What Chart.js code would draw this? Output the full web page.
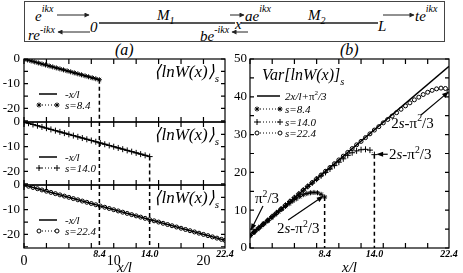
<!DOCTYPE html>
<html>
<head>
<meta charset="utf-8">
<script src="https://cdn.jsdelivr.net/npm/chart.js@4.4.1/dist/chart.umd.min.js"></script>
<style>
  html, body { margin: 0; padding: 0; background: #fff; }
  #fig { position: relative; width: 463px; height: 273px; overflow: hidden; }
  #fig canvas, #fig svg { position: absolute; }
  #xlab { pointer-events: none; z-index: 5; }
</style>
</head>
<body>
<div id="fig">
  <!-- the transfer-matrix sketch above the two panels -->
  <svg width="463" height="60" style="left:0;top:0" font-family="'Liberation Serif', 'Times New Roman', serif" font-style="italic">
    <defs>
      <marker id="ah" viewBox="0 0 10 10" refX="9" refY="5" markerWidth="6" markerHeight="5" orient="auto">
        <path d="M0,0L10,5L0,10z" fill="#222"/>
      </marker>
    </defs>
    <rect x="24.5" y="1.5" width="420" height="40" fill="none" stroke="#444"/>
    <g stroke="#555" stroke-width="2">
      <line x1="99" y1="23" x2="235" y2="23"/>
      <line x1="241" y1="23" x2="378" y2="23"/>
    </g>
    <g stroke="#222" stroke-width="1" marker-end="url(#ah)">
      <line x1="57" y1="15" x2="89" y2="15"/>
      <line x1="230" y1="15" x2="244" y2="15"/>
      <line x1="383" y1="15" x2="414" y2="15"/>
      <line x1="90" y1="32" x2="58" y2="32"/>
      <line x1="248" y1="32" x2="232" y2="32"/>
    </g>
    <g font-size="15" fill="#000">
      <text x="35" y="21">e<tspan font-size="10" dy="-9">ikx</tspan></text>
      <text x="90" y="32">0</text>
      <text x="157" y="20">M<tspan font-size="10" dy="4">1</tspan></text>
      <text x="235" y="29">x</text>
      <text x="245" y="21">ae<tspan font-size="10" dy="-9">ikx</tspan></text>
      <text x="308" y="20">M<tspan font-size="10" dy="4">2</tspan></text>
      <text x="378" y="31">L</text>
      <text x="415" y="21">te<tspan font-size="10" dy="-9">ikx</tspan></text>
      <text x="28" y="40">re<tspan font-size="10" dy="-7">-ikx</tspan></text>
      <text x="200" y="41">be<tspan font-size="10" dy="-8">-ikx</tspan></text>
      <text x="115" y="55" font-size="16">(a)</text>
      <text x="340" y="55" font-size="16">(b)</text>
    </g>
  </svg>
  <canvas id="a1" width="240" height="83" style="left:0;top:49px"></canvas>
  <canvas id="a2" width="240" height="83" style="left:0;top:112px"></canvas>
  <canvas id="a3" width="240" height="98" style="left:0;top:175px"></canvas>
  <canvas id="b" width="238" height="224" style="left:225px;top:49px"></canvas>
  <!-- x tick labels, placed from the chart scales once they are built -->
  <svg id="xlab" width="463" height="273" style="left:0;top:0" font-family="'Liberation Serif', 'Times New Roman', serif" fill="#000"></svg>
</div>
<script>
const FONT = "'Liberation Serif', 'Times New Roman', serif";
Chart.defaults.font.family = FONT;
Chart.defaults.color = "#000";

// ---- data ----
const sValues = [8.4, 14.0, 22.4];

// s = 8.4 (asterisks)
const xS84 = [0, 0.4, 0.8, 1.2, 1.6, 2.0, 2.4, 2.8, 3.2, 3.6, 4.0, 4.4, 4.8, 5.2, 5.6, 6.0, 6.4, 6.8, 7.2, 7.6, 8.0, 8.4];
const lnW84 = [0, -0.4, -0.8, -1.2, -1.6, -2.0, -2.4, -2.8, -3.2, -3.6, -4.0, -4.4, -4.8, -5.2, -5.6, -6.0, -6.4, -6.8, -7.2, -7.6, -8.0, -8.4];
const var84 = [3.3, 4.1, 4.9, 5.7, 6.5, 7.2, 8.0, 8.8, 9.6, 10.3, 11.0, 11.7, 12.4, 13.0, 13.6, 14.1, 14.4, 14.6, 14.7, 14.6, 14.2, 13.5];

// s = 14.0 (pluses)
const xS140 = [0, 0.5, 1, 1.5, 2, 2.5, 3, 3.5, 4, 4.5, 5, 5.5, 6, 6.5, 7, 7.5, 8, 8.5, 9, 9.5, 10, 10.5, 11, 11.5, 12, 12.5, 13, 13.5, 14];
const lnW140 = [0, -0.5, -1, -1.5, -2, -2.5, -3, -3.5, -4, -4.5, -5, -5.5, -6, -6.5, -7, -7.5, -8, -8.5, -9, -9.5, -10, -10.5, -11, -11.5, -12, -12.5, -13, -13.5, -14];
const var140 = [3.3, 4.3, 5.3, 6.3, 7.3, 8.3, 9.3, 10.3, 11.3, 12.3, 13.3, 14.3, 15.3, 16.3, 17.2, 18.2, 19.1, 20.0, 20.9, 21.8, 22.7, 23.6, 24.5, 25.2, 25.7, 26.0, 26.1, 25.9, 24.7];

// s = 22.4 (circles)
const xS224 = [0, 0.5, 1, 1.5, 2, 2.5, 3, 3.5, 4, 4.5, 5, 5.5, 6, 6.5, 7, 7.5, 8, 8.5, 9, 9.5, 10, 10.5, 11, 11.5, 12, 12.5, 13, 13.5, 14, 14.5, 15, 15.5, 16, 16.5, 17, 17.5, 18, 18.5, 19, 19.5, 20, 20.5, 21, 21.5, 22, 22.4];
const lnW224 = [0, -0.5, -1, -1.5, -2, -2.5, -3, -3.5, -4, -4.5, -5, -5.5, -6, -6.5, -7, -7.5, -8, -8.5, -9, -9.5, -10, -10.5, -11, -11.5, -12, -12.5, -13, -13.5, -14, -14.5, -15, -15.5, -16, -16.5, -17, -17.5, -18, -18.5, -19, -19.5, -20, -20.5, -21, -21.5, -22, -22.4];
const var224 = [3.3, 4.3, 5.3, 6.3, 7.3, 8.3, 9.3, 10.3, 11.3, 12.3, 13.3, 14.3, 15.3, 16.3, 17.3, 18.3, 19.3, 20.3, 21.3, 22.3, 23.3, 24.3, 25.3, 26.3, 27.3, 28.2, 29.2, 30.2, 31.2, 32.1, 33.1, 34.0, 34.9, 35.8, 36.7, 37.6, 38.4, 39.2, 39.9, 40.6, 41.2, 41.7, 42.1, 42.3, 42.2, 41.5];

// theory lines: -x/l per panel (a) strip, 2x/l + pi^2/3 in panel (b)
const thX84 = [0, 8.4], thY84 = [0, -8.4];
const thX140 = [0, 14.0], thY140 = [0, -14.0];
const thX224 = [0, 22.4], thY224 = [0, -22.4];
const varLineX = [0, 22.4], varLineY = [3.29, 48.09];

// axis ticks (ascending — chart.js expects that order)
const xTicksA = [0, 8.4, 10, 14.0, 20, 22.4];
const yTicksA = [-20, -10, 0];
const xTicksB = [8.4, 14.0, 22.4];
const yTicksB = [0, 10, 20, 30, 40, 50];

const pts = (xs, ys) => xs.map((x, i) => ({ x, y: ys[i] }));

// rich text: parts are [text, flags]; flags: i = italic, ^ = superscript, _ = subscript
function drawRich(ctx, parts, x, y, size, align) {
  const segs = parts.map(([t, f = ""]) => {
    const small = f.includes("^") || f.includes("_");
    const sz = small ? size * 0.65 : size;
    const dy = f.includes("^") ? -size * 0.42 : f.includes("_") ? size * 0.3 : 0;
    return { t, dy, font: `${f.includes("i") ? "italic " : ""}${sz}px ${FONT}` };
  });
  let w = 0;
  for (const s of segs) { ctx.font = s.font; s.w = ctx.measureText(s.t).width; w += s.w; }
  let cx = align === "right" ? x - w : x;
  ctx.textAlign = "left";
  ctx.textBaseline = "alphabetic";
  for (const s of segs) { ctx.font = s.font; ctx.fillText(s.t, cx, y + s.dy); cx += s.w; }
}

function arrow(ctx, x1, y1, x2, y2) {
  const a = Math.atan2(y2 - y1, x2 - x1), L = 7, W = 2.6;
  ctx.beginPath(); ctx.moveTo(x1, y1); ctx.lineTo(x2 - Math.cos(a) * L * 0.8, y2 - Math.sin(a) * L * 0.8); ctx.stroke();
  ctx.beginPath();
  ctx.moveTo(x2, y2);
  ctx.lineTo(x2 - L * Math.cos(a) + W * Math.sin(a), y2 - L * Math.sin(a) - W * Math.cos(a));
  ctx.lineTo(x2 - L * Math.cos(a) - W * Math.sin(a), y2 - L * Math.sin(a) + W * Math.cos(a));
  ctx.closePath(); ctx.fill();
}

// frame with inward ticks, dashed s-markers, in-plot legend, titles and arrow notes
function decor(cfg) {
  return {
    id: "decor",
    afterDatasetsDraw(chart) {
      const { ctx, chartArea: ca, scales: { x, y } } = chart;
      ctx.save();
      ctx.strokeStyle = "#000";
      ctx.fillStyle = "#000";

      ctx.setLineDash([4, 3]);
      ctx.lineWidth = 1.5;
      for (const l of cfg.lines || []) {
        const px = x.getPixelForValue(l.x);
        const py = l.from == null ? ca.top : y.getPixelForValue(l.from);
        ctx.beginPath(); ctx.moveTo(px, py); ctx.lineTo(px, ca.bottom); ctx.stroke();
      }
      ctx.setLineDash([]);

      ctx.lineWidth = 1.2;
      ctx.strokeRect(ca.left, ca.top, ca.right - ca.left, ca.bottom - ca.top);
      ctx.beginPath();
      for (let v = x.min; v <= x.max + 1e-6; v += cfg.xStep) {
        const p = x.getPixelForValue(v);
        ctx.moveTo(p, ca.bottom); ctx.lineTo(p, ca.bottom - 5);
        ctx.moveTo(p, ca.top); ctx.lineTo(p, ca.top + 5);
      }
      for (let v = Math.ceil(y.min / cfg.yStep) * cfg.yStep; v <= y.max + 1e-6; v += cfg.yStep) {
        const p = y.getPixelForValue(v);
        ctx.moveTo(ca.left, p); ctx.lineTo(ca.left + 4, p);
        ctx.moveTo(ca.right, p); ctx.lineTo(ca.right - 4, p);
      }
      ctx.stroke();

      const [sx0, sx1, tx] = cfg.legendX;
      for (const row of cfg.legend || []) {
        const ds = chart.data.datasets[row.ds];
        const yy = ca.top + row.dy;
        ctx.beginPath();
        if (!ds.pointRadius) {
          ctx.lineWidth = 1.5;
          ctx.moveTo(ca.left + sx0, yy); ctx.lineTo(ca.left + sx1, yy); ctx.stroke();
        } else {
          ctx.lineWidth = 1;
          ctx.setLineDash([1, 2]);
          ctx.moveTo(ca.left + sx0, yy); ctx.lineTo(ca.left + sx1, yy); ctx.stroke();
          ctx.setLineDash([]);
          ctx.fillStyle = ds.pointBackgroundColor;
          const st = { pointStyle: ds.pointStyle, radius: ds.pointRadius, rotation: 0, borderWidth: 1 };
          Chart.helpers.drawPoint(ctx, st, ca.left + sx0, yy);
          Chart.helpers.drawPoint(ctx, st, ca.left + sx1, yy);
          ctx.fillStyle = "#000";
        }
        drawRich(ctx, row.parts, ca.left + tx, yy + 4, 11);
      }

      if (cfg.title) {
        const t = cfg.title;
        const tx0 = t.align === "right" ? ca.right - t.dx : ca.left + t.dx;
        drawRich(ctx, t.parts, tx0, ca.top + t.dy, t.size, t.align);
      }

      ctx.lineWidth = 1.2;
      for (const n of cfg.notes || []) {
        drawRich(ctx, n.parts, x.getPixelForValue(n.at[0]), y.getPixelForValue(n.at[1]), 15);
        if (n.arrow) {
          const a = n.arrow;
          arrow(ctx, x.getPixelForValue(a[0]), y.getPixelForValue(a[1]), x.getPixelForValue(a[2]), y.getPixelForValue(a[3]));
        }
      }
      ctx.restore();
    },
  };
}

// axis boxes are sized by hand so the plot areas land exactly; label overflow must not push them
const fixH = (h) => (s) => { s.height = h; s.paddingLeft = 0; s.paddingRight = 0; };
const fixW = (w) => (s) => { s.width = w; s.paddingTop = 0; s.paddingBottom = 0; };
const noGrid = () => ({ display: false, drawTicks: false, tickLength: 0 });

function theoryDs(label, data) {
  return { label, data, showLine: true, borderColor: "#000", borderWidth: 1.5, pointRadius: 0 };
}
function markerDs(label, data, pointStyle, radius, fill) {
  return {
    label, data, showLine: true, borderColor: "#000", borderWidth: 0.8, borderDash: [1, 2],
    pointStyle, pointRadius: radius, pointBorderWidth: 1, pointBorderColor: "#000", pointBackgroundColor: fill,
  };
}

function xAxis(showX, h) {
  return {
    type: "linear", min: 0, max: 22.4, display: showX,
    grid: noGrid(), border: { display: false },
    afterFit: fixH(h),
    ticks: { display: false },
    title: { display: true, text: "x/l", color: "#000", font: { size: 15, style: "italic" }, padding: { top: 0, bottom: -4 } },
  };
}
function yAxis(min, max, tickVals, w, pad) {
  return {
    type: "linear", min, max,
    grid: noGrid(), border: { display: false },
    afterBuildTicks: (s) => { s.ticks = tickVals.map((v) => ({ value: v })); },
    afterFit: fixW(w),
    ticks: { autoSkip: false, padding: pad, color: "#000", font: { size: 13 } },
  };
}

const lnTitle = { parts: [["\u27E8lnW(x)\u27E9", "i"], ["s", "i_"]], size: 17, dx: 6, dy: 18, align: "right" };

function lnWChart(id, datasets, lines, sLabel, showX) {
  return new Chart(document.getElementById(id), {
    type: "scatter",
    data: { datasets },
    options: {
      responsive: false, animation: false, events: [],
      layout: { padding: { left: 0, top: 10, right: 15, bottom: showX ? 0 : 10 } },
      plugins: { legend: { display: false }, tooltip: { enabled: false } },
      scales: { x: xAxis(showX, showX ? 25 : 0), y: yAxis(-25.5, 0, yTicksA, 24, 4) },
    },
    plugins: [decor({
      xStep: 2.5, yStep: 5, lines,
      legendX: [15, 33, 41],
      legend: [
        { ds: 0, dy: 35, parts: [["-x/l", "i"]] },
        { ds: 1, dy: 46, parts: [[sLabel, "i"]] },
      ],
      title: lnTitle,
    })],
  });
}

lnWChart("a1",
  [theoryDs("-x/l", pts(thX84, thY84)), markerDs("s=8.4", pts(xS84, lnW84), "star", 2.5, "#000")],
  [{ x: xS84.at(-1), from: lnW84.at(-1) }], "s=8.4", false);

lnWChart("a2",
  [theoryDs("-x/l", pts(thX140, thY140)), markerDs("s=14.0", pts(xS140, lnW140), "cross", 3, "#000")],
  [{ x: xS84.at(-1), from: null }, { x: xS140.at(-1), from: lnW140.at(-1) }], "s=14.0", false);

const chartA3 = lnWChart("a3",
  [theoryDs("-x/l", pts(thX224, thY224)), markerDs("s=22.4", pts(xS224, lnW224), "circle", 2, "#fff")],
  [{ x: xS84.at(-1), from: null }, { x: xS140.at(-1), from: null }], "s=22.4", true);

const twoS = [["2", ""], ["s", "i"], ["-\u03C0", ""], ["2", "^"], ["/3", ""]];

const chartB = new Chart(document.getElementById("b"), {
  type: "scatter",
  data: {
    datasets: [
      theoryDs("2x/l+\u03C0\u00B2/3", pts(varLineX, varLineY)),
      markerDs("s=8.4", pts(xS84, var84), "star", 2.5, "#000"),
      markerDs("s=14.0", pts(xS140, var140), "cross", 3, "#000"),
      markerDs("s=22.4", pts(xS224, var224), "circle", 2, "#fff"),
    ],
  },
  options: {
    responsive: false, animation: false, events: [],
    layout: { padding: { left: 0, top: 10, right: 14, bottom: 0 } },
    plugins: { legend: { display: false }, tooltip: { enabled: false } },
    scales: { x: xAxis(true, 25), y: yAxis(0, 50, yTicksB, 25, 3) },
  },
  plugins: [decor({
    xStep: 2.5, yStep: 5,
    lines: [{ x: xS84.at(-1), from: var84.at(-1) }, { x: xS140.at(-1), from: var140.at(-1) }],
    legendX: [7, 30, 35],
    legend: [
      { ds: 0, dy: 37, parts: [["2x/l+", "i"], ["\u03C0", ""], ["2", "^"], ["/3", "i"]] },
      { ds: 1, dy: 50, parts: [["s=8.4", "i"]] },
      { ds: 2, dy: 63, parts: [["s=14.0", "i"]] },
      { ds: 3, dy: 74, parts: [["s=22.4", "i"]] },
    ],
    title: { parts: [["Var[lnW(x)]", "i"], ["s", "i_"]], size: 16, dx: 12, dy: 21, align: "left" },
    notes: [
      { parts: [["\u03C0", ""], ["2", "^"], ["/3", ""]], at: [0.56, 11.9], arrow: [1.46, 11.1, 0.08, 4.6] },
      { parts: twoS, at: [3.04, 4.0], arrow: [4.3, 7.4, 8.3, 13.8] },
      { parts: twoS, at: [15.65, 23.5], arrow: [15.5, 24.8, 14.2, 24.8] },
      { parts: twoS, at: [15.9, 31.8], arrow: [19.25, 35.2, 22.4, 41.4] },
    ],
  })],
});

// x tick labels as svg text on top: plain numbers upright, the s values small bold italic
function xLabels(chart, vals) {
  const overlay = document.getElementById("xlab");
  const cv = chart.canvas;
  const { chartArea: ca, scales: { x } } = chart;
  for (const v of vals) {
    const special = sValues.includes(v);
    const t = document.createElementNS("http://www.w3.org/2000/svg", "text");
    t.setAttribute("x", cv.offsetLeft + x.getPixelForValue(v));
    t.setAttribute("y", cv.offsetTop + ca.bottom + (special ? 9 : 17));
    t.setAttribute("text-anchor", "middle");
    t.setAttribute("font-size", special ? 10 : 14);
    t.setAttribute("font-style", special ? "italic" : "normal");
    t.setAttribute("font-weight", special ? "bold" : "normal");
    t.setAttribute("fill", "#000");
    t.textContent = special ? v.toFixed(1) : String(v);
    overlay.appendChild(t);
  }
}
xLabels(chartA3, xTicksA);
xLabels(chartB, xTicksB);
</script>
</body>
</html>
